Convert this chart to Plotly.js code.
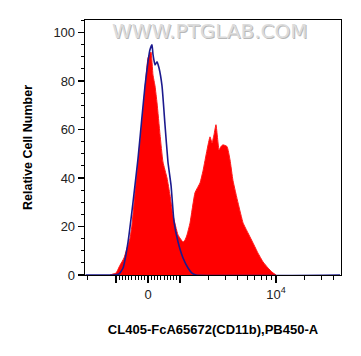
<!DOCTYPE html>
<html>
<head>
<meta charset="utf-8">
<script src="https://cdn.plot.ly/plotly-3.0.1.min.js"></script>
<style>html,body{margin:0;padding:0;background:#fff;}#chart{width:361px;height:356px;}</style>
</head>
<body>
<div id="chart"></div>
<script>
// x positions are in display (biexponential) units: 0 -> 0, 10^3 -> 1/3, 10^4 -> 4/3
const sampleX = [-0.396,-0.365,-0.333,-0.292,-0.25,-0.219,-0.188,-0.167,-0.135,-0.104,-0.063,-0.031,0,0.031,0.052,0.073,0.094,0.125,0.156,0.198,0.229,0.26,0.313,0.365,0.385,0.406,0.438,0.49,0.542,0.573,0.615,0.646,0.667,0.688,0.708,0.74,0.76,0.781,0.823,0.854,0.885,0.938,0.99,1.042,1.094,1.146,1.198,1.25,1.292,1.333];
const sampleY = [0,0.4,0.8,4,7,11,15,20.6,34,46.6,63,77,89.5,92,82.5,78,71,58,46.6,40,33,24.8,16.5,13.6,14.4,16.5,21.5,34,38,43,51.6,57,54.5,58,62,51.6,53,53.7,53,47.5,39,29.7,21.5,17.3,13.2,9,5.4,2.9,1.2,0];
const controlX = [-0.65,-0.365,-0.302,-0.26,-0.208,-0.156,-0.104,-0.063,-0.031,0,0.021,0.042,0.052,0.073,0.094,0.115,0.146,0.177,0.208,0.24,0.271,0.313,0.365,0.417,0.458,0.5,2.0];
const controlY = [0,0,0.4,2.9,13.6,30,48,65,78,88,93,95,91,86.7,88,85.4,78,62,46.6,37,22,13.6,7,2.9,0.8,0,0];
const xLabelValues = [0, 10000];
const xLabels = ['0', '10<sup>4</sup>'];
const xUnlabeledMajor = [-1000, 1000];
const yTickValues = [0, 20, 40, 60, 80, 100];
const xTitle = 'CL405-FcA65672(CD11b),PB450-A';
const yTitle = 'Relative Cell Number';
const watermark = 'WWW.PTGLAB.COM';

function toDisplay(v){
  if (Math.abs(v) <= 1000) return v/3000;
  const s = v < 0 ? -1 : 1;
  return s*(1/3 + Math.log10(Math.abs(v)/1000));
}
const minorVals = [];
for (let v=-900; v<=900; v+=100) if (v!==0) minorVals.push(toDisplay(v));
[2,3,4,5,6,7,8,9].forEach(m=>{ minorVals.push(toDisplay(m*1000)); minorVals.push(toDisplay(m*10000)); minorVals.push(toDisplay(-m*1000)); });

const font = 'Liberation Sans, Arial, sans-serif';
const xRange = [-0.656, 2.01];
const traces = [
  {x: sampleX, y: sampleY, type:'scatter', mode:'lines', fill:'tozeroy', fillcolor:'#ff0000', line:{color:'#ff1a1a', width:1, shape:'spline', smoothing:0.4}, hoverinfo:'skip'},
  {x: controlX, y: controlY, type:'scatter', mode:'lines', line:{color:'#1c1a8e', width:1.6, shape:'spline', smoothing:0.4}, hoverinfo:'skip'},
  {x: [], y: [], type:'scatter', mode:'lines', xaxis:'x2', yaxis:'y', hoverinfo:'skip'}
];
const layout = {
  width:361, height:356,
  margin:{l:85, r:20, t:20, b:81},
  paper_bgcolor:'#fff', plot_bgcolor:'#fff',
  showlegend:false,
  font:{family:font, color:'#222', size:13},
  xaxis:{
    range:xRange, showgrid:false, zeroline:false,
    showline:true, linecolor:'#000', linewidth:1.3, mirror:true,
    tickmode:'array', tickvals: xLabelValues.map(toDisplay), ticktext: xLabels,
    ticks:'outside', ticklen:7, tickwidth:1.2, tickcolor:'#000',
    tickfont:{family:font, size:13, color:'#222'},
    minor:{tickmode:'array', tickvals:minorVals, ticks:'outside', ticklen:3.5, tickwidth:1, tickcolor:'#000', showgrid:false},
    title:{text:xTitle, font:{family:font, size:13, color:'#000', weight:'bold'}, standoff:24}
  },
  xaxis2:{
    overlaying:'x', side:'bottom', range:xRange, showgrid:false, zeroline:false, showline:false,
    tickmode:'array', tickvals: xUnlabeledMajor.map(toDisplay), showticklabels:false,
    ticks:'outside', ticklen:7, tickwidth:1.2, tickcolor:'#000'
  },
  yaxis:{
    range:[0, 105.2], showgrid:false, zeroline:false,
    showline:true, linecolor:'#000', linewidth:1.3, mirror:true,
    tickmode:'array', tickvals:yTickValues,
    ticks:'outside', ticklen:6, tickwidth:1.2, tickcolor:'#000',
    tickfont:{family:font, size:13, color:'#222'},
    minor:{dtick:5, tick0:0, ticks:'outside', ticklen:3, tickwidth:1, tickcolor:'#000', showgrid:false},
    title:{text:yTitle, font:{family:font, size:12.5, color:'#000', weight:'bold'}, standoff:18}
  },
  annotations:[
    {text:watermark, xref:'paper', yref:'paper', x:0.49, y:0.955, xanchor:'center', yanchor:'middle', showarrow:false,
     font:{family:'DejaVu Sans, sans-serif', size:20, color:'#dcdcdc', shadow:'1px 1px 0px #b8b8b8'}}
  ]
};
Plotly.newPlot('chart', traces, layout, {staticPlot:true, displayModeBar:false});
</script>
</body>
</html>
